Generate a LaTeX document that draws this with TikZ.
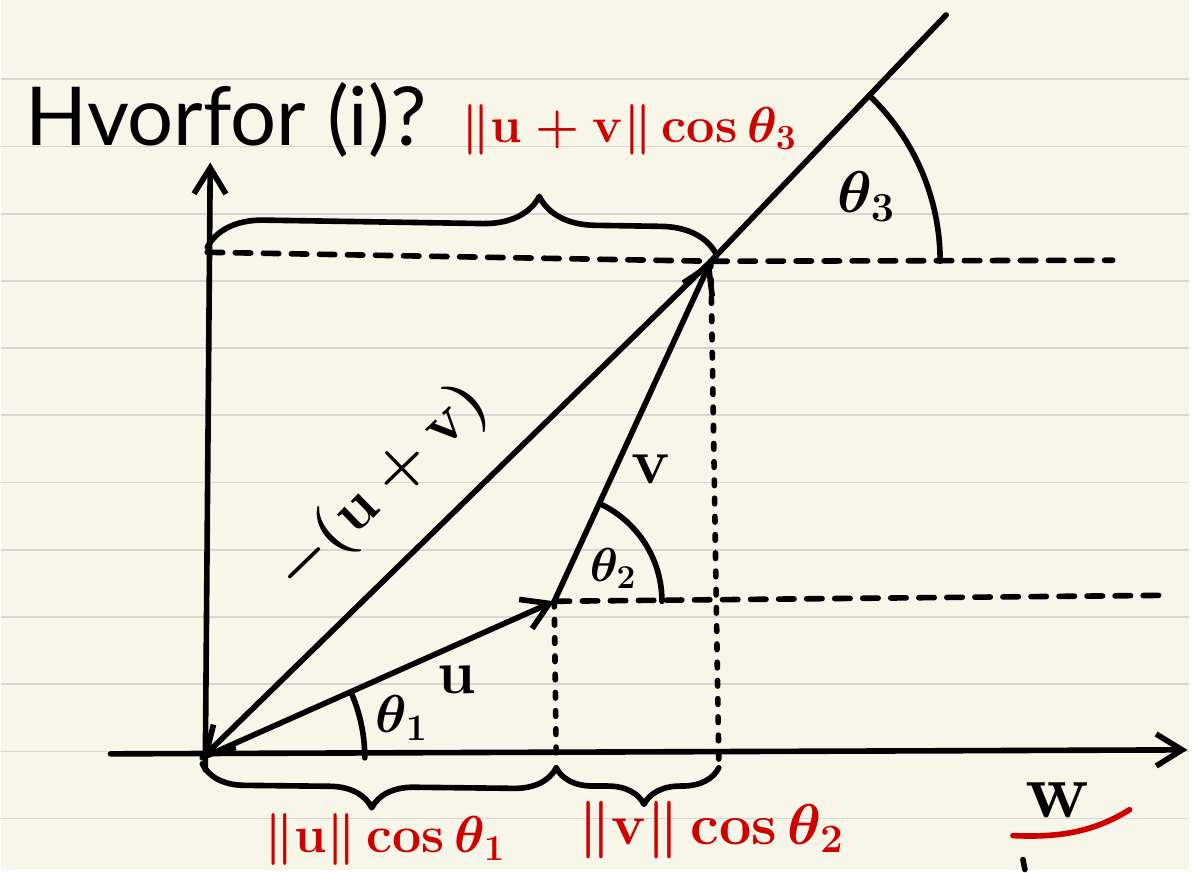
\documentclass[tikz,border=0pt]{standalone}
\usepackage{fix-cm}
\usepackage{amsmath}
\usepackage{amssymb}
\usepackage[no-math]{fontspec}
\setmainfont{Lato}
\usepackage{tikz}
\usetikzlibrary{arrows.meta,decorations.pathreplacing}
\definecolor{vcpaper}{RGB}{248,246,232}
\definecolor{vcrule}{RGB}{214,214,210}
\definecolor{vcred}{RGB}{206,0,0}
\newcommand{\vcnorm}[1]{\lVert #1\rVert}
\newcommand{\vcbig}[1]{\fontsize{#1}{#1}\selectfont\boldmath}
\tikzset{
  vcline/.style={draw=black, line width=4pt, line cap=round, line join=round},
  vcarr/.style={vcline, -{Straight Barb[length=6.5mm, width=8mm]}},
  vcdash/.style={vcline, dash pattern=on 11pt off 9pt},
  vcdot/.style={vcline, dash pattern=on 4pt off 9pt},
  vcarc/.style={vcline},
  vcbrace/.style={vcline, decorate, decoration={brace, amplitude=#1}},
  vclabel/.style={text=black, inner sep=0pt},
  vcredlabel/.style={text=vcred, inner sep=0pt}
}

\begin{document}
\begin{tikzpicture}[x=0.025cm, y=-0.025cm]
  % paper
  \fill[vcpaper] (0,0) rectangle (1192,872);
  \foreach \k in {0,...,11}
    \draw[vcrule, line width=1.2pt] (0,79.5+67.4*\k) -- (1192,79.5+67.4*\k);
  % points
  \coordinate (orig) at (202,760);
  \coordinate (utip) at (555,603);
  \coordinate (vtip) at (712,262);
  \coordinate (ext) at (948,15);
  \coordinate (xstart) at (110,756);
  \coordinate (xend) at (1190,752);
  \coordinate (ybot) at (205,772);
  \coordinate (yend) at (210,163);
  \coordinate (topdl) at (207,253);
  \coordinate (topdr) at (1115,261);
  \coordinate (middr) at (1170,597);
  \coordinate (ufoot) at (557,762);
  \coordinate (vfoot) at (720,762);
  % axes
  \draw[vcarr] (xstart) -- (xend);
  \draw[vcarr] (ybot) -- (yend);
  % guide lines
  \draw[vcdash] (topdl) -- (vtip) -- (topdr);
  \draw[vcdash] (utip) -- (middr);
  \draw[vcdot] (utip) -- (ufoot);
  \draw[vcdot] (vtip) -- (vfoot);
  % vectors
  \draw[vcarr] (orig) -- (utip);
  \draw[vcarr] (utip) -- (vtip);
  \draw[vcarr] (vtip) -- (orig);
  \draw[vcline] (vtip) -- (ext);
  % angles
  \draw[vcarc] ([shift={(0:163)}]orig) arc[start angle=0, end angle=-24, radius=163];
  \draw[vcarc] ([shift={(0:108)}]utip) arc[start angle=0, end angle=-65, radius=108];
  \draw[vcarc] ([shift={(0:230)}]vtip) arc[start angle=0, end angle=-46, radius=230];
  % braces
  \draw[vcbrace=40pt, decoration={aspect=0.65}] (207,248) -- (718,256);
  \draw[vcbrace=30pt, decoration={aspect=0.52}] (557,770) -- (202,766);
  \draw[vcbrace=26pt, decoration={aspect=0.46}] (720,770) -- (557,770);
  % labels
  \node[vclabel, font=\vcbig{58}] (title) at (226,120) {Hvorfor (i)?};
  \node[vcredlabel, font=\vcbig{36}] (sumlen) at (630,130) {$\vcnorm{\mathbf{u}+\mathbf{v}}\cos\theta_3$};
  \node[vcredlabel, font=\vcbig{37}] (ulen) at (385,842) {$\vcnorm{\mathbf{u}}\cos\theta_1$};
  \node[vcredlabel, font=\vcbig{41}] (vlen) at (712,832) {$\vcnorm{\mathbf{v}}\cos\theta_2$};
  \node[vclabel, font=\vcbig{44}, rotate=44] (sumlab) at (382,490) {$-(\mathbf{u}+\mathbf{v})$};
  \node[vclabel, font=\vcbig{44}] (ulab) at (457,682) {$\mathbf{u}$};
  \node[vclabel, font=\vcbig{46}] (vlab) at (652,470) {$\mathbf{v}$};
  \node[vclabel, font=\vcbig{38}] (th1) at (402,720) {$\theta_1$};
  \node[vclabel, font=\vcbig{34}] (th2) at (614,570) {$\theta_2$};
  \node[vclabel, font=\vcbig{42}] (th3) at (868,197) {$\theta_3$};
  \node[vclabel, font=\vcbig{56}] (wlab) at (1060,802) {$\mathbf{w}$};
  \coordinate (wl) at (1015,838);
  \coordinate (wr) at (1132,812);
  \draw[vcline, draw=vcred] (wl) .. controls (1060,840) and (1095,835) .. (wr);
  \coordinate (marka) at (1025,862);
  \coordinate (markb) at (1027,872);
  \draw[vcline] (marka) -- (markb);
\end{tikzpicture}
\end{document}
